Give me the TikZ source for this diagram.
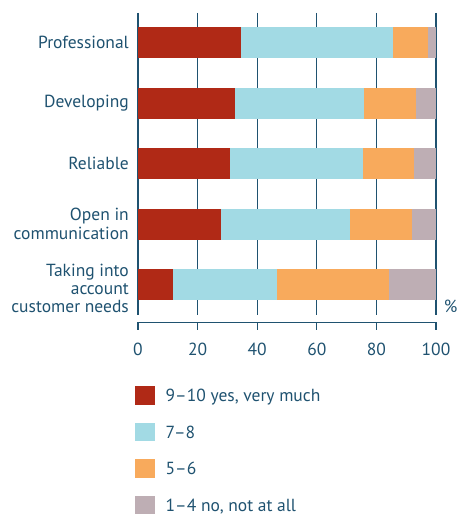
\documentclass[tikz,border=0pt]{standalone}
\usepackage{fontspec}
\setmainfont{PT Sans}
\definecolor{txt}{RGB}{31,82,112}
\definecolor{axc}{RGB}{31,82,112}
\definecolor{cred}{RGB}{176,41,22}
\definecolor{ccyan}{RGB}{162,218,228}
\definecolor{corange}{RGB}{248,170,92}
\definecolor{cgrey}{RGB}{190,174,180}
\begin{document}
\begin{tikzpicture}[x=1pt,y=-1pt,
  lbl/.style={text=txt,font=\fontsize{17.5}{18.3}\selectfont,inner sep=0pt},
  cat/.style={lbl,anchor=east,align=right},
  tick/.style={lbl,anchor=center},
  leg/.style={lbl,anchor=base west},
  grid/.style={draw=axc,line width=1.1pt}]
\useasboundingbox (0,0) rectangle (458,516);
% gridlines
\foreach \k in {0,...,5}{
  \draw[grid] ({138+59.6*\k},13) -- ({138+59.6*\k},315);
}
% bars: y-top, values
\def\bar#1#2#3#4{%
  \fill[cred] (138,#1) rectangle ({138+2.98*#2},{#1+30.7});
  \fill[ccyan] ({138+2.98*#2},#1) rectangle ({138+2.98*#3},{#1+30.7});
  \fill[corange] ({138+2.98*#3},#1) rectangle ({138+2.98*#4},{#1+30.7});
  \fill[cgrey] ({138+2.98*#4},#1) rectangle (436,{#1+30.7});
}
\bar{27}{34.6}{85.7}{97.2}
\bar{88}{32.7}{75.7}{93.2}
\bar{148}{31.0}{75.5}{92.5}
\bar{209}{27.7}{71.0}{91.9}
\bar{269}{11.9}{46.8}{84.2}
% category labels
\node[cat] (c1) at (129,42.5) {Professional};
\node[cat] (c2) at (129,103.5) {Developing};
\node[cat] (c3) at (129,163.5) {Reliable};
\node[cat] (c4) at (129,224) {Open in\\communication};
\node[cat,align=right] (c5) at (129,288.3) {Taking into\\account\\customer needs};
\node[lbl,anchor=east] (pct) at (457.5,306) {\%};
% axis
\draw[grid] (138,322.7) -- (436,322.7);
\foreach \k in {0,...,5}{
  \draw[grid] ({138+59.6*\k},322.2) -- ({138+59.6*\k},330);
}
\foreach \k/\v in {0/0,1/20,2/40,3/60,4/80,5/100}{
  \node[tick] (t\k) at ({138+59.6*\k},349) {\v};
}
% legend
\fill[cred] (135,386) rectangle (154.5,404.5);
\fill[ccyan] (135,422.5) rectangle (154.5,441);
\fill[corange] (135,459.3) rectangle (154.5,477.8);
\fill[cgrey] (135,495.5) rectangle (154.5,514);
\node[leg] (l1) at (165.5,401.5) {9–10 yes, very much};
\node[leg] (l2) at (165.5,438) {7–8};
\node[leg] (l3) at (165.5,474.5) {5–6};
\node[leg] (l4) at (165.5,511) {1–4 no, not at all};
\end{tikzpicture}
\end{document}
